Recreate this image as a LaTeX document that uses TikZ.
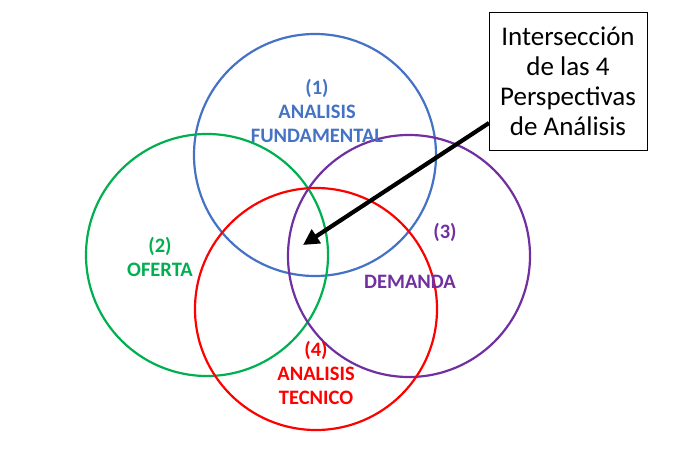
\documentclass[tikz,border=0pt]{standalone}
\usepackage{fontspec}
\setmainfont{Carlito}
\usetikzlibrary{arrows.meta}
\definecolor{azul}{HTML}{4472C4}
\definecolor{verde}{HTML}{00B050}
\definecolor{morado}{HTML}{7030A0}
\definecolor{rojo}{HTML}{FF0000}
\begin{document}
\begin{tikzpicture}[x=1pt,y=-1pt]
	\tikzstyle{ring}=[circle,line width=2.2pt,minimum size=242pt,inner sep=0pt]
	\tikzstyle{tag}=[align=center,font=\fontsize{20.5}{24}\selectfont\bfseries]
	\useasboundingbox (0,0) rectangle (675,449);
	\node[ring,draw=azul](fund) at (315,155) {};
	\node[ring,draw=verde](ofer) at (207,255) {};
	\node[ring,draw=morado](dem) at (409,256) {};
	\node[ring,draw=rojo](tec) at (316,309) {};
	\node[tag,text=azul](tfund) at (317,111) {(1)\\ANALISIS\\FUNDAMENTAL};
	\node[tag,text=verde](tofer) at (160,257) {(2)\\OFERTA};
	\node[tag,text=morado](tdem1) at (445,232) {(3)};
	\node[tag,text=morado](tdem2) at (410,282) {DEMANDA};
	\node[tag,text=rojo](ttec) at (316,373) {(4)\\ANALISIS\\TECNICO};
	\node[draw=black,line width=0.9pt,minimum width=158pt,minimum height=138pt,align=center,
		font=\fontsize{27}{30}\selectfont](box) at (568,81) {Intersecci\'on\\de las 4\\Perspectivas\\de An\'alisis};
	\coordinate (start) at (489,123);
	\coordinate (tip) at (303,245);
	\draw[line width=4.2pt,-{Triangle[length=16pt,width=16pt]}](start) -- (tip);
\end{tikzpicture}
\end{document}
